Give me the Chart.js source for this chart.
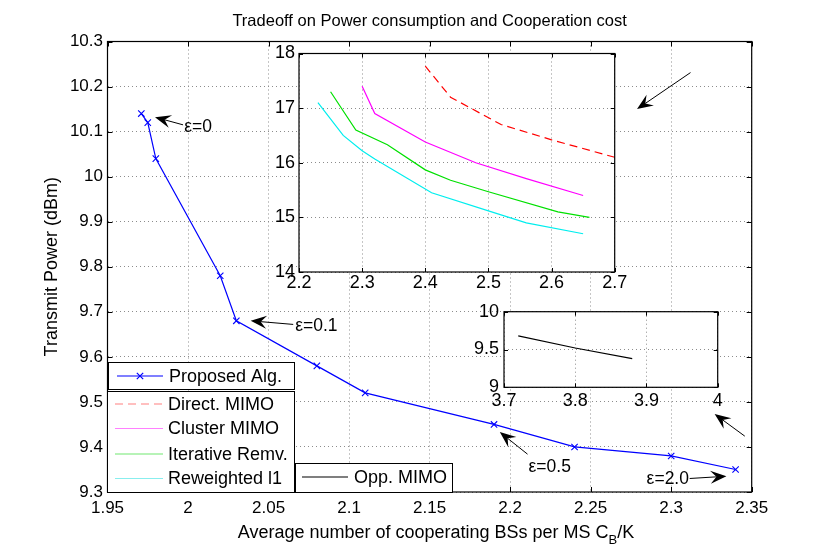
<!DOCTYPE html>
<html>
<head>
<meta charset="utf-8">
<script src="https://cdn.jsdelivr.net/npm/chart.js@4.4.1/dist/chart.umd.min.js"></script>
<style>
  body { margin: 0; background: #fff; }
  #wrap { position: relative; width: 830px; height: 554px; }
  #wrap canvas { position: absolute; left: 0; top: 0; }
</style>
</head>
<body>
<div id="wrap">
  <canvas id="mainChart" width="830" height="554"></canvas>
  <canvas id="insetTop" width="830" height="554"></canvas>
  <canvas id="insetBottom" width="830" height="554"></canvas>
</div>
<script>
// main plot: proposed algorithm, one point per epsilon
const propX = [1.971, 1.975, 1.980, 2.020, 2.030, 2.080, 2.110, 2.190, 2.240, 2.300, 2.340];
const propY = [10.14, 10.12, 10.04, 9.78, 9.68, 9.58, 9.52, 9.45, 9.40, 9.38, 9.35];

// upper inset
const directX = [2.40, 2.44, 2.52, 2.60, 2.70];
const directY = [17.77, 17.20, 16.70, 16.42, 16.10];
const clusterX = [2.30, 2.32, 2.40, 2.48, 2.56, 2.65];
const clusterY = [17.40, 16.90, 16.38, 16.00, 15.71, 15.40];
const iterX = [2.25, 2.29, 2.34, 2.40, 2.44, 2.50, 2.61, 2.66];
const iterY = [17.30, 16.60, 16.33, 15.87, 15.68, 15.47, 15.10, 15.00];
const reweightX = [2.23, 2.27, 2.30, 2.32, 2.41, 2.50, 2.56, 2.65];
const reweightY = [17.10, 16.50, 16.22, 16.07, 15.45, 15.12, 14.90, 14.70];

// lower inset
const oppX = [3.72, 3.80, 3.88];
const oppY = [9.68, 9.52, 9.38];

// tick values and labels
const mainXTicks = [1.95, 2.00, 2.05, 2.10, 2.15, 2.20, 2.25, 2.30, 2.35];
const mainXLabels = ['1.95', '2', '2.05', '2.1', '2.15', '2.2', '2.25', '2.3', '2.35'];
const mainYTicks = [9.3, 9.4, 9.5, 9.6, 9.7, 9.8, 9.9, 10.0, 10.1, 10.2, 10.3];
const mainYLabels = ['9.3', '9.4', '9.5', '9.6', '9.7', '9.8', '9.9', '10', '10.1', '10.2', '10.3'];
const topXTicks = [2.2, 2.3, 2.4, 2.5, 2.6, 2.7];
const topXLabels = ['2.2', '2.3', '2.4', '2.5', '2.6', '2.7'];
const topYTicks = [14, 15, 16, 17, 18];
const topYLabels = ['14', '15', '16', '17', '18'];
const botXTicks = [3.7, 3.8, 3.9, 4.0];
const botXLabels = ['3.7', '3.8', '3.9', '4'];
const botYTicks = [9, 9.5, 10];
const botYLabels = ['9', '9.5', '10'];

// epsilon annotations, in main-axis data units
const notes = [
  { text: 'ε=0',   at: [2.0062, 10.110], tail: [1.9969, 10.115], tip: [1.9795, 10.132] },
  { text: 'ε=0.1', at: [2.0797, 9.668],  tail: [2.0653, 9.672],  tip: [2.0389, 9.680] },
  { text: 'ε=0.5', at: [2.2246, 9.356],  tail: [2.2108, 9.384],  tip: [2.1936, 9.433] },
  { text: 'ε=2.0', at: [2.2979, 9.329],  tail: [2.3115, 9.330],  tip: [2.3343, 9.335] },
  { text: '',      at: null,             tail: [2.3120, 10.231], tip: [2.2788, 10.150] },
  { text: '',      at: null,             tail: [2.3457, 9.424],  tip: [2.3270, 9.473] }
];

const FONT = '"Liberation Sans", Arial, Helvetica, sans-serif';

const styles = {
  proposed: { color: '#0000ff', legend: '#0000ff', dash: [] },
  direct:   { color: '#ff0000', legend: '#ff8080', dash: [8, 5] },
  cluster:  { color: '#ff00ff', legend: '#ff80ff', dash: [] },
  iter:     { color: '#00e000', legend: '#70e870', dash: [] },
  reweight: { color: '#00eeee', legend: '#88eeee', dash: [] },
  opp:      { color: '#000000', legend: '#000000', dash: [] }
};

function lineSet(label, xs, ys, st, extra) {
  return Object.assign({
    label: label,
    data: xs.map((x, i) => ({ x: x, y: ys[i] })),
    borderColor: st.color,
    backgroundColor: st.color,
    borderDash: st.dash,
    borderWidth: 1.2,
    pointRadius: 0,
    showLine: true,
    tension: 0,
    fill: false
  }, extra || {});
}

function axis(min, max, ticks, labels, size, pad, fontSize) {
  return {
    type: 'linear',
    min: min,
    max: max,
    afterBuildTicks: s => { s.ticks = ticks.map(v => ({ value: v })); },
    afterFit: s => { if (s.isHorizontal()) s.height = size; else s.width = size; },
    ticks: {
      callback: (v, i) => labels[i],
      color: '#000',
      font: { family: FONT, size: fontSize },
      padding: pad,
      autoSkip: false,
      maxRotation: 0
    },
    grid: { color: '#8c8c8c', lineWidth: 1, drawTicks: false },
    border: { display: false, dash: [1, 3] }
  };
}

// box around the axes with inward tick marks on all four sides
function frame(tickLen) {
  return {
    id: 'frame',
    afterDraw(chart) {
      const ctx = chart.ctx, a = chart.chartArea;
      const sx = chart.scales.x, sy = chart.scales.y;
      ctx.save();
      ctx.strokeStyle = '#000';
      ctx.lineWidth = 1;
      ctx.setLineDash([]);
      ctx.beginPath();
      sx.ticks.forEach(t => {
        const px = Math.round(sx.getPixelForValue(t.value)) + 0.5;
        ctx.moveTo(px, a.bottom); ctx.lineTo(px, a.bottom - tickLen);
        ctx.moveTo(px, a.top); ctx.lineTo(px, a.top + tickLen);
      });
      sy.ticks.forEach(t => {
        const py = Math.round(sy.getPixelForValue(t.value)) + 0.5;
        ctx.moveTo(a.left, py); ctx.lineTo(a.left + tickLen, py);
        ctx.moveTo(a.right, py); ctx.lineTo(a.right - tickLen, py);
      });
      ctx.stroke();
      ctx.lineWidth = 1.2;
      ctx.strokeRect(a.left, a.top, a.right - a.left, a.bottom - a.top);
      ctx.restore();
    }
  };
}

const whiteArea = {
  id: 'whiteArea',
  beforeDraw(chart) {
    const a = chart.chartArea, ctx = chart.ctx;
    ctx.save();
    ctx.fillStyle = '#fff';
    ctx.fillRect(a.left, a.top, a.right - a.left, a.bottom - a.top);
    ctx.restore();
  }
};

function arrow(ctx, x1, y1, x2, y2) {
  const ang = Math.atan2(y2 - y1, x2 - x1);
  const len = 16, half = 6.5, notch = 10;
  ctx.beginPath();
  ctx.moveTo(x1, y1);
  ctx.lineTo(x2 - Math.cos(ang) * notch, y2 - Math.sin(ang) * notch);
  ctx.stroke();
  const bx = x2 - Math.cos(ang) * len, by = y2 - Math.sin(ang) * len;
  const nx = -Math.sin(ang), ny = Math.cos(ang);
  ctx.beginPath();
  ctx.moveTo(x2, y2);
  ctx.lineTo(bx + nx * half, by + ny * half);
  ctx.lineTo(x2 - Math.cos(ang) * notch, y2 - Math.sin(ang) * notch);
  ctx.lineTo(bx - nx * half, by - ny * half);
  ctx.closePath();
  ctx.fill();
}

// legend boxes (page pixels) and their entries
const legendBoxes = [
  { box: [108, 362, 294, 389], items: [['Proposed Alg.', 'proposed', 376]], line: [117, 163], text: 169 },
  { box: [107, 391, 294, 492], items: [['Direct. MIMO', 'direct', 404], ['Cluster MIMO', 'cluster', 428.5],
      ['Iterative Remv.', 'iter', 454], ['Reweighted l1', 'reweight', 478.5]], line: [115, 163], text: 168 },
  { box: [295, 463, 452, 492], items: [['Opp. MIMO', 'opp', 477]], line: [302, 348], text: 354 }
];

const mainDecor = {
  id: 'mainDecor',
  afterDraw(chart) {
    const ctx = chart.ctx, a = chart.chartArea;
    const sx = chart.scales.x, sy = chart.scales.y;
    ctx.save();
    ctx.fillStyle = '#000';
    ctx.font = '16.5px ' + FONT;
    ctx.textAlign = 'center';
    ctx.textBaseline = 'alphabetic';
    ctx.fillText('Tradeoff on Power consumption and Cooperation cost', (a.left + a.right) / 2, 26);

    // x label with subscript
    const p1 = 'Average number of cooperating BSs per MS C', sub = 'B', p2 = '/K';
    ctx.textAlign = 'left';
    ctx.font = '18px ' + FONT;
    const w1 = ctx.measureText(p1).width, w3 = ctx.measureText(p2).width;
    ctx.font = '13px ' + FONT;
    const w2 = ctx.measureText(sub).width;
    const x0 = 436 - (w1 + w2 + w3) / 2;
    ctx.font = '18px ' + FONT;
    ctx.fillText(p1, x0, 538);
    ctx.font = '13px ' + FONT;
    ctx.fillText(sub, x0 + w1, 544);
    ctx.font = '18px ' + FONT;
    ctx.fillText(p2, x0 + w1 + w2, 538);

    // y label
    ctx.save();
    ctx.translate(57, (a.top + a.bottom) / 2);
    ctx.rotate(-Math.PI / 2);
    ctx.textAlign = 'center';
    ctx.fillText('Transmit Power (dBm)', 0, 0);
    ctx.restore();

    // annotations
    ctx.strokeStyle = '#000';
    ctx.lineWidth = 1;
    ctx.font = '17.5px ' + FONT;
    ctx.textAlign = 'center';
    ctx.textBaseline = 'middle';
    notes.forEach(n => {
      arrow(ctx, sx.getPixelForValue(n.tail[0]), sy.getPixelForValue(n.tail[1]),
        sx.getPixelForValue(n.tip[0]), sy.getPixelForValue(n.tip[1]));
      if (n.at) ctx.fillText(n.text, sx.getPixelForValue(n.at[0]), sy.getPixelForValue(n.at[1]));
    });

    // legends
    ctx.font = '18px ' + FONT;
    ctx.textAlign = 'left';
    ctx.textBaseline = 'middle';
    legendBoxes.forEach(lb => {
      const [l, t, r, b] = lb.box;
      ctx.fillStyle = '#fff';
      ctx.fillRect(l, t, r - l, b - t);
      ctx.strokeStyle = '#000';
      ctx.lineWidth = 1;
      ctx.setLineDash([]);
      ctx.strokeRect(l + 0.5, t + 0.5, r - l, b - t);
      lb.items.forEach(([label, key, y]) => {
        const st = styles[key];
        ctx.strokeStyle = st.legend;
        ctx.lineWidth = 1.2;
        ctx.setLineDash(st.dash);
        ctx.beginPath();
        ctx.moveTo(lb.line[0], y);
        ctx.lineTo(lb.line[1], y);
        ctx.stroke();
        ctx.setLineDash([]);
        if (key === 'proposed') {
          const cx = (lb.line[0] + lb.line[1]) / 2, r0 = 3.2;
          ctx.beginPath();
          ctx.moveTo(cx - r0, y - r0); ctx.lineTo(cx + r0, y + r0);
          ctx.moveTo(cx - r0, y + r0); ctx.lineTo(cx + r0, y - r0);
          ctx.stroke();
        }
        ctx.fillStyle = '#000';
        ctx.fillText(label, lb.text, y + 1);
      });
    });
    ctx.restore();
  }
};

const baseOpts = {
  responsive: false,
  animation: false,
  events: [],
  plugins: { legend: { display: false }, tooltip: { enabled: false } }
};

new Chart(document.getElementById('mainChart'), {
  type: 'scatter',
  data: {
    datasets: [
      lineSet('Proposed Alg.', propX, propY, styles.proposed,
        { pointRadius: 4.5, pointStyle: 'crossRot', pointBorderWidth: 1.1 })
    ]
  },
  options: Object.assign({}, baseOpts, {
    layout: { padding: { left: 0, top: 41.5, right: 78.3, bottom: 0 } },
    scales: {
      x: axis(1.95, 2.35, mainXTicks, mainXLabels, 62, 6, 17),
      y: axis(9.3, 10.3, mainYTicks, mainYLabels, 107.5, 4.5, 17)
    }
  }),
  plugins: [frame(5), mainDecor]
});

new Chart(document.getElementById('insetTop'), {
  type: 'scatter',
  data: {
    datasets: [
      lineSet('Direct. MIMO', directX, directY, styles.direct),
      lineSet('Cluster MIMO', clusterX, clusterY, styles.cluster),
      lineSet('Iterative Remv.', iterX, iterY, styles.iter),
      lineSet('Reweighted l1', reweightX, reweightY, styles.reweight)
    ]
  },
  options: Object.assign({}, baseOpts, {
    layout: { padding: { left: 259, top: 53.5, right: 215.3, bottom: 252 } },
    scales: {
      x: axis(2.2, 2.7, topXTicks, topXLabels, 30, 0, 18),
      y: axis(14, 18, topYTicks, topYLabels, 40, 4, 18)
    }
  }),
  plugins: [whiteArea, frame(4)]
});

new Chart(document.getElementById('insetBottom'), {
  type: 'scatter',
  data: {
    datasets: [lineSet('Opp. MIMO', oppX, oppY, styles.opp)]
  },
  options: Object.assign({}, baseOpts, {
    layout: { padding: { left: 464, top: 311.7, right: 112.3, bottom: 136.7 } },
    scales: {
      x: axis(3.7, 4.0, botXTicks, botXLabels, 30, 3, 18),
      y: axis(9, 10, botYTicks, botYLabels, 40, 5, 18)
    }
  }),
  plugins: [whiteArea, frame(4)]
});
</script>
</body>
</html>
